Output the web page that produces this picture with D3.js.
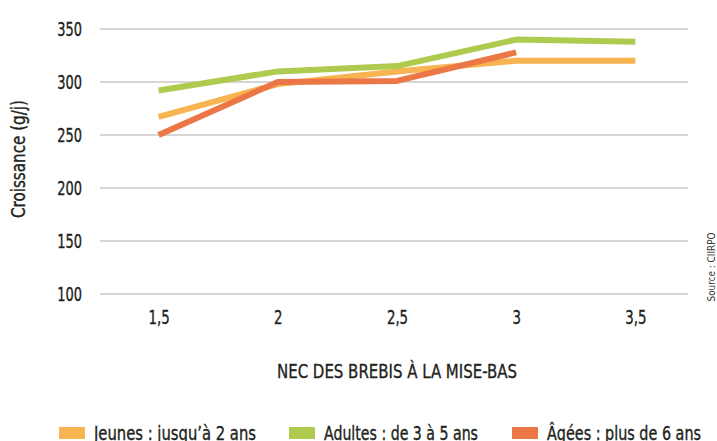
<!DOCTYPE html>
<html>
<head>
<meta charset="utf-8">
<script src="https://cdn.jsdelivr.net/npm/d3@7"></script>
<style>
  body { margin: 0; background: #fff; }
  svg text { font-family: "DejaVu Sans Condensed", "Liberation Sans Narrow", sans-serif; fill: #231f20; stroke: #231f20; stroke-width: 0.35px; }
</style>
</head>
<body>
<svg id="chart" width="717" height="441"></svg>
<script>
// categories and series
var nec = ["1,5", "2", "2,5", "3", "3,5"];
var jeunes = [267, 298, 310, 320, 320];
var adultes = [292, 310, 315, 340, 338];
var agees = [250, 300, 301, 328, null];
var yTicks = [100, 150, 200, 250, 300, 350];

var seriesNames = ["Jeunes : jusqu’à 2 ans", "Adultes : de 3 à 5 ans", "Âgées : plus de 6 ans"];
var seriesColors = ["#f8b450", "#afcb4f", "#ec7746"];

var margin = {top: 29, right: 22, bottom: 147, left: 99},
    width = 717 - margin.left - margin.right,
    height = 441 - margin.top - margin.bottom;

var svg = d3.select("#chart");
var chart = svg.append("g")
  .attr("transform", "translate(" + margin.left + "," + margin.top + ")");

var x = d3.scalePoint().domain(nec).range([0, width]).padding(0.5);
var y = d3.scaleLinear().domain([100, 350]).range([height, 0]);

// squeeze text horizontally, the original uses a condensed font
function squeeze(sel, k) {
  sel.each(function () {
    var w = this.getComputedTextLength();
    d3.select(this).attr("textLength", w * k).attr("lengthAdjust", "spacingAndGlyphs");
  });
}

// gridlines
chart.append("g")
  .selectAll("line")
  .data(yTicks)
  .enter().append("line")
  .attr("x1", 1)
  .attr("x2", 589)
  .attr("y1", function (d) { return y(d); })
  .attr("y2", function (d) { return y(d); })
  .attr("stroke", "#c8c8c8")
  .attr("stroke-width", 1.5);

// y axis labels
var yAxis = d3.axisLeft(y).tickValues(yTicks).tickSize(0).tickPadding(17);
chart.append("g")
  .attr("class", "y axis")
  .call(yAxis)
  .call(function (g) { g.select(".domain").remove(); })
  .selectAll("text")
  .style("font-size", "19px")
  .attr("dy", "0.36em")
  .call(squeeze, 0.76);

// x axis labels
var xAxis = d3.axisBottom(x).tickSize(0).tickPadding(17);
chart.append("g")
  .attr("class", "x axis")
  .attr("transform", "translate(0," + height + ")")
  .call(xAxis)
  .call(function (g) { g.select(".domain").remove(); })
  .selectAll("text")
  .style("font-size", "19px")
  .call(squeeze, 0.78);

chart.selectAll(".axis text").attr("fill", "#231f20");

// lines
var allSeries = [jeunes, adultes, agees];
var line = d3.line()
  .defined(function (d) { return d != null; })
  .x(function (d, i) { return x(nec[i]); })
  .y(function (d) { return y(d); });

chart.selectAll(".serie")
  .data(allSeries)
  .enter().append("path")
  .attr("class", "serie")
  .attr("fill", "none")
  .attr("stroke", function (d, i) { return seriesColors[i]; })
  .attr("stroke-width", 6)
  .attr("stroke-linejoin", "round")
  .attr("d", line);

// axis titles
svg.append("text")
  .attr("transform", "translate(25,159) rotate(-90)")
  .attr("text-anchor", "middle")
  .style("font-size", "19px")
  .attr("textLength", 118)
  .attr("lengthAdjust", "spacingAndGlyphs")
  .text("Croissance (g/j)");

svg.append("text")
  .attr("x", 397)
  .attr("y", 378)
  .attr("text-anchor", "middle")
  .style("font-size", "20px")
  .attr("textLength", 240)
  .attr("lengthAdjust", "spacingAndGlyphs")
  .text("NEC DES BREBIS À LA MISE-BAS");

svg.append("text")
  .attr("transform", "translate(715,267) rotate(-90)")
  .attr("text-anchor", "middle")
  .style("font-size", "11px")
  .style("fill", "#3a3a3a")
  .style("stroke", "none")
  .attr("textLength", 69)
  .attr("lengthAdjust", "spacingAndGlyphs")
  .text("Source : CIIRPO");

// legend
var legendX = [59, 289, 512];
var legendW = [162, 154, 154];
var legend = svg.selectAll(".legend")
  .data(seriesNames)
  .enter().append("g")
  .attr("class", "legend")
  .attr("transform", function (d, i) { return "translate(" + legendX[i] + ",427)"; });

legend.append("rect")
  .attr("width", 26)
  .attr("height", 12)
  .attr("fill", function (d, i) { return seriesColors[i]; });

legend.append("text")
  .attr("x", 35)
  .attr("y", 12.5)
  .style("font-size", "19px")
  .attr("textLength", function (d, i) { return legendW[i]; })
  .attr("lengthAdjust", "spacingAndGlyphs")
  .text(function (d) { return d; });
</script>
</body>
</html>
